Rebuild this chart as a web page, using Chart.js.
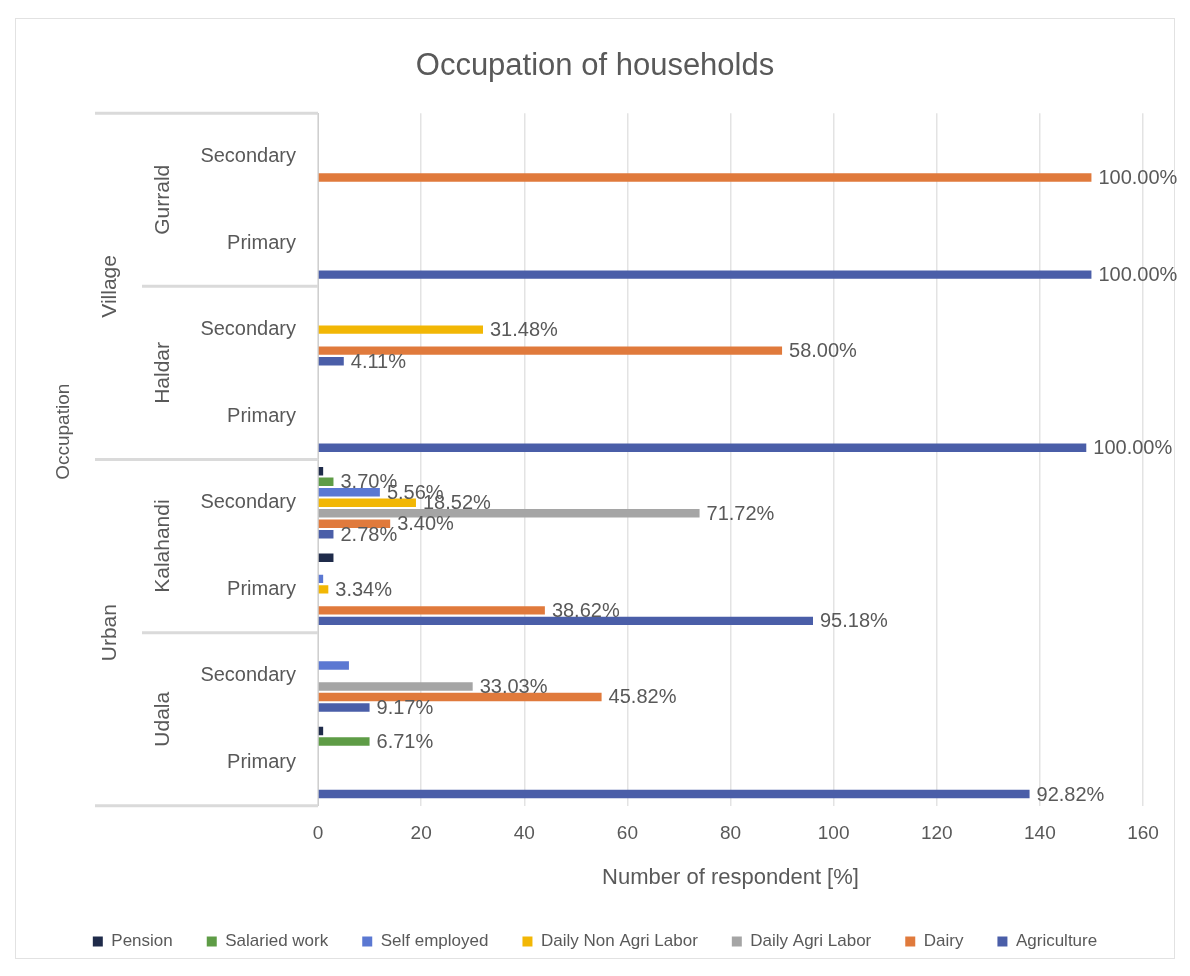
<!DOCTYPE html>
<html>
<head>
<meta charset="utf-8">
<title>Occupation of households</title>
<script src="https://cdn.jsdelivr.net/npm/chart.js@4.4.1/dist/chart.umd.min.js"></script>
<style>
  html, body { margin: 0; padding: 0; background: #ffffff; overflow: hidden; }
  canvas { display: block; }
</style>
</head>
<body>
<canvas id="chart" width="1190" height="976"></canvas>
<script>
// Category rows, top to bottom: each place has a Secondary and a Primary row
const categories = ['Secondary', 'Primary', 'Secondary', 'Primary', 'Secondary', 'Primary', 'Secondary', 'Primary'];
const places = ['Gurrald', 'Haldar', 'Kalahandi', 'Udala'];
const areas = ['Village', 'Urban'];

// x axis: number of respondents
const xMin = 0;
const xMax = 160;
const xStep = 20;

const seriesNames = ['Pension', 'Salaried work', 'Self employed', 'Daily Non Agri Labor', 'Daily Agri Labor', 'Dairy', 'Agriculture'];

// respondents per row (same order as categories)
const pension      = [0,   0,   0,  0,   1,  3,  0,   1];
const salaried     = [0,   0,   0,  0,   3,  0,  0,  10];
const selfEmployed = [0,   0,   0,  0,  12,  1,  6,   0];
const dailyNonAgri = [0,   0,  32,  0,  19,  2,  0,   0];
const dailyAgri    = [0,   0,   0,  0,  74,  0, 30,   0];
const dairy        = [150, 0,  90,  0,  14, 44, 55,   0];
const agriculture  = [0, 150,   5, 149,  3, 96, 10, 138];

// share labels printed at the end of the bars
const pensionShare      = ['', '', '', '', '', '', '', ''];
const salariedShare     = ['', '', '', '', '3.70%', '', '', '6.71%'];
const selfEmployedShare = ['', '', '', '', '5.56%', '', '', ''];
const dailyNonAgriShare = ['', '', '31.48%', '', '18.52%', '3.34%', '', ''];
const dailyAgriShare    = ['', '', '', '', '71.72%', '', '33.03%', ''];
const dairyShare        = ['100.00%', '', '58.00%', '', '3.40%', '38.62%', '45.82%', ''];
const agricultureShare  = ['', '100.00%', '4.11%', '100.00%', '2.78%', '95.18%', '9.17%', '92.82%'];

const seriesValues = [pension, salaried, selfEmployed, dailyNonAgri, dailyAgri, dairy, agriculture];
const seriesShares = [pensionShare, salariedShare, selfEmployedShare, dailyNonAgriShare, dailyAgriShare, dairyShare, agricultureShare];
const seriesColors = ['#1f2b4a', '#5e9c46', '#5b78d2', '#f2b705', '#a5a5a5', '#e07a3c', '#4a5ea8'];

const FONT = '"Liberation Sans", Arial, sans-serif';
const TEXT = '#595959';

// white page with a thin chart frame
const frame = {
  id: 'frame',
  beforeDraw(chart) {
    const { ctx, width, height } = chart;
    ctx.save();
    ctx.fillStyle = '#ffffff';
    ctx.fillRect(0, 0, width, height);
    ctx.strokeStyle = '#e2e2e2';
    ctx.lineWidth = 1;
    ctx.strokeRect(15.5, 18.5, width - 31, height - 36);
    ctx.restore();
  }
};

// two outer levels of the category axis (place and area) plus the axis title
const groupAxis = {
  id: 'groupAxis',
  afterDraw(chart) {
    const { ctx, chartArea: ca, scales: { y } } = chart;
    const step = y.getPixelForValue(1) - y.getPixelForValue(0);
    const edge = i => y.getPixelForValue(i) - step / 2;
    ctx.save();
    ctx.strokeStyle = '#dadada';
    ctx.lineWidth = 3;
    const hline = (x0, yy) => {
      ctx.beginPath();
      ctx.moveTo(x0, yy);
      ctx.lineTo(ca.left, yy);
      ctx.stroke();
    };
    [0, 4, 8].forEach(i => hline(95, edge(i)));
    [2, 6].forEach(i => hline(142, edge(i)));

    ctx.fillStyle = TEXT;
    ctx.textAlign = 'center';
    ctx.textBaseline = 'middle';
    const vtext = (txt, x, yy) => {
      ctx.save();
      ctx.translate(x, yy);
      ctx.rotate(-Math.PI / 2);
      ctx.fillText(txt, 0, 0);
      ctx.restore();
    };
    ctx.font = '21px ' + FONT;
    places.forEach((p, k) => vtext(p, 163, (edge(2 * k) + edge(2 * k + 2)) / 2));
    areas.forEach((a, k) => vtext(a, 110, (edge(4 * k) + edge(4 * k + 4)) / 2));
    ctx.font = '19px ' + FONT;
    vtext('Occupation', 64, ca.top + (ca.bottom - ca.top) * 0.46);
    ctx.restore();
  }
};

// share labels right after each bar end
const shareLabels = {
  id: 'shareLabels',
  afterDatasetsDraw(chart) {
    const { ctx } = chart;
    ctx.save();
    ctx.font = '20px ' + FONT;
    ctx.fillStyle = TEXT;
    ctx.textAlign = 'left';
    ctx.textBaseline = 'middle';
    chart.data.datasets.forEach((ds, di) => {
      const meta = chart.getDatasetMeta(di);
      meta.data.forEach((bar, i) => {
        const txt = seriesShares[di][i];
        if (txt) ctx.fillText(txt, bar.x + 7, bar.y + 1);
      });
    });
    ctx.restore();
  }
};

const datasets = seriesNames.map((name, i) => ({
  label: name,
  data: seriesValues[i],
  backgroundColor: seriesColors[i],
  borderWidth: 0,
  categoryPercentage: 0.85,
  barPercentage: 0.8
}));

new Chart(document.getElementById('chart'), {
  type: 'bar',
  data: { labels: categories, datasets },
  plugins: [frame, groupAxis, shareLabels],
  options: {
    indexAxis: 'y',
    responsive: false,
    animation: false,
    devicePixelRatio: 1,
    layout: { padding: { left: 47, right: 47, top: 48, bottom: 16 } },
    scales: {
      x: {
        min: xMin,
        max: xMax,
        ticks: { stepSize: xStep, color: TEXT, font: { family: FONT, size: 19 }, padding: 17 },
        grid: { color: '#e3e3e3', lineWidth: 1.5, drawTicks: false },
        border: { display: false },
        title: {
          display: true,
          text: 'Number of respondent [%]',
          color: TEXT,
          font: { family: FONT, size: 22 },
          padding: { top: 2, bottom: 8 }
        }
      },
      y: {
        ticks: { color: TEXT, font: { family: FONT, size: 20 }, padding: 22 },
        grid: { display: false, drawTicks: false },
        border: { display: true, color: '#cfcfcf', width: 1 },
        afterFit(scale) { scale.width = 271; }
      }
    },
    plugins: {
      title: {
        display: true,
        text: 'Occupation of households',
        color: TEXT,
        font: { family: FONT, size: 31, weight: 'normal' },
        padding: { top: 0, bottom: 28 }
      },
      legend: {
        position: 'bottom',
        labels: {
          color: TEXT,
          font: { family: FONT, size: 17 },
          boxWidth: 10,
          boxHeight: 10,
          padding: 34
        }
      },
      tooltip: { enabled: false }
    }
  }
});
</script>
</body>
</html>
